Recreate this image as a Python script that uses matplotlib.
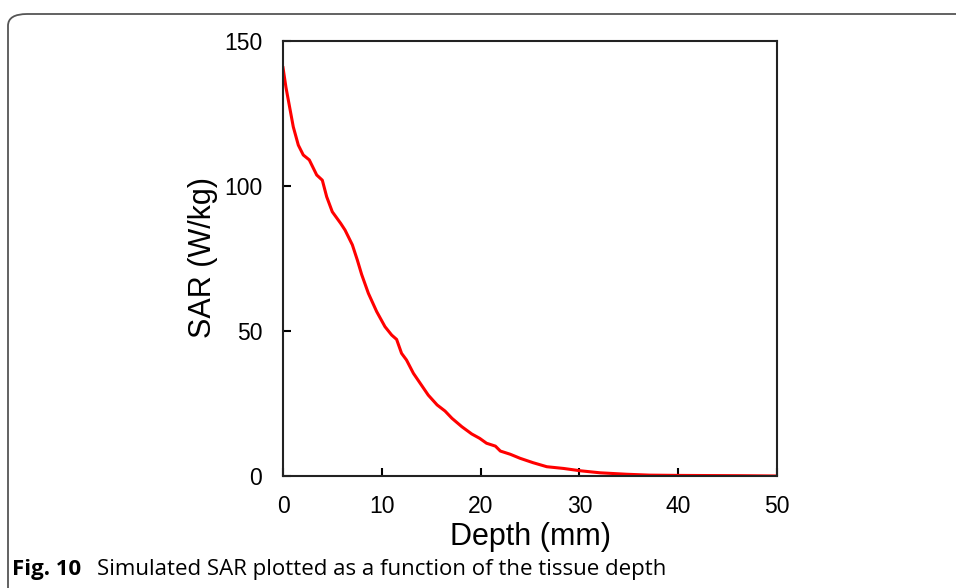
import numpy as np
import matplotlib.pyplot as plt
from matplotlib.patches import FancyBboxPatch

# profondeur (mm) et SAR (W/kg)
depth = [0.0, 0.3, 0.54, 1.04, 1.55, 2.05, 2.66, 3.41, 3.98, 4.42, 4.99, 5.84, 6.28,
         7.02, 7.52, 7.96, 8.64, 9.48, 10.32, 11.0, 11.5, 12.0, 12.5, 13.2, 14.0,
         14.7, 15.6, 16.4, 17.1, 18.1, 19.1, 19.9, 20.6, 21.5, 22.0, 23.0, 24.0,
         25.3, 26.7, 28.4, 30.1, 32.1, 34.8, 37.1, 40.2, 46.5, 50.0]
sar = [140.8, 134.0, 129.6, 120.4, 114.1, 110.7, 109.0, 103.8, 102.0, 96.3, 91.1,
       87.1, 84.8, 79.7, 74.5, 69.5, 63.0, 56.7, 51.5, 48.6, 47.1, 42.3, 40.0,
       35.4, 31.4, 27.9, 24.5, 22.4, 19.9, 17.0, 14.5, 13.0, 11.3, 10.3, 8.6,
       7.5, 6.1, 4.6, 3.2, 2.6, 1.8, 1.1, 0.6, 0.3, 0.2, 0.1, 0.0]

xticks = [0, 10, 20, 30, 40, 50]
yticks = [0, 50, 100, 150]

plt.rcParams['font.family'] = ['Liberation Sans', 'DejaVu Sans']

fig = plt.figure(figsize=(9.56, 5.88), dpi=100)
W, H = 956, 588
ax = fig.add_axes([283 / W, 1 - 476 / H, (777 - 283) / W, (476 - 41) / H])

ax.plot(depth, sar, color='#ff0000', lw=2.2)
ax.set_xlim(0, 50)
ax.set_ylim(0, 150)
ax.set_xticks(xticks)
ax.set_yticks(yticks)
ax.tick_params(direction='in', length=6, width=1.5, labelsize=16.5, colors='black')
ax.tick_params(axis='x', pad=14)
ax.tick_params(axis='y', pad=15)
for s in ax.spines.values():
    s.set_linewidth(1.5)
    s.set_color('#222222')

ax.set_xlabel('Depth (mm)', fontsize=22)
ax.set_ylabel('SAR (W/kg)', fontsize=22)
ax.xaxis.set_label_coords(0.5, -0.105)
ax.yaxis.set_label_coords(-0.132, 0.503)

# cadre arrondi autour de la figure
box = FancyBboxPatch((8 / W, -0.2), 1.2, (1 - 14 / H) + 0.2,
                     boxstyle='round,pad=0,rounding_size=0.02',
                     transform=fig.transFigure, fill=False,
                     edgecolor='#555555', lw=1.3, clip_on=False)
fig.patches.append(box)

fig.text(12 / W, 1 - 569 / H, 'Fig. 10', fontsize=16, fontweight='bold',
         family=['Open Sans', 'DejaVu Sans'], va='center', ha='left')
fig.text(97 / W, 1 - 569 / H, 'Simulated SAR plotted as a function of the tissue depth',
         fontsize=16, family=['Open Sans', 'DejaVu Sans'], va='center', ha='left')

fig.savefig('out.png', dpi=100)
